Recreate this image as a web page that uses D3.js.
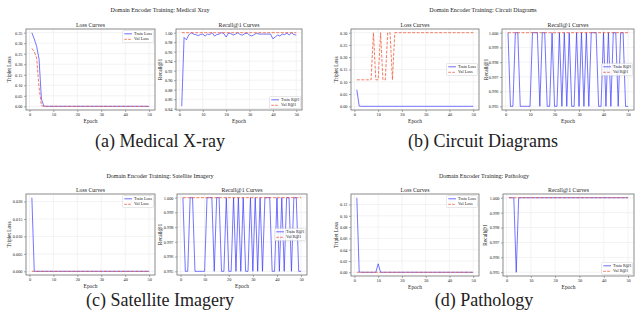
<!DOCTYPE html>
<html>
<head>
<meta charset="utf-8">
<script src="https://cdn.jsdelivr.net/npm/d3@7"></script>
<style>
  body { margin: 0; background: #fff; }
  svg { display: block; }
  text { font-family: "Liberation Serif", "DejaVu Serif", serif; fill: #222; }
</style>
</head>
<body>
<svg id="chart" width="644" height="321"></svg>
<script>
// --- Data ---
const epochs = d3.range(1, 51);
const xTicks = [0, 10, 20, 30, 40, 50];

// (a) Medical X-ray
const medTrainLoss = [0.350, 0.320, 0.285, 0.225, 0.035, 0.001, 0, 0, 0, 0,
  0, 0, 0, 0, 0, 0, 0, 0, 0, 0,
  0, 0, 0, 0, 0, 0, 0, 0, 0, 0,
  0, 0, 0, 0, 0, 0, 0, 0, 0, 0,
  0, 0, 0, 0, 0, 0, 0, 0, 0, 0];
const medValLoss = [0.275, 0.260, 0.230, 0.090, 0.003, 0, 0, 0, 0, 0,
  0, 0, 0, 0, 0, 0, 0, 0, 0, 0,
  0, 0, 0, 0, 0, 0, 0, 0, 0, 0,
  0, 0, 0, 0, 0, 0, 0, 0, 0, 0,
  0, 0, 0, 0, 0, 0, 0, 0, 0, 0];
const medTrainRecall = [0.845, 0.990, 0.985, 0.995, 1.000, 0.997, 0.996, 0.994, 0.996, 0.997,
  0.993, 0.997, 0.996, 1.000, 0.993, 0.996, 0.997, 1.000, 0.998, 0.991,
  0.999, 0.998, 0.995, 0.997, 1.000, 0.996, 0.995, 0.998, 0.999, 0.995,
  0.993, 0.996, 0.999, 0.997, 0.997, 0.997, 0.997, 0.997, 0.997, 0.987,
  0.991, 0.995, 0.993, 0.997, 0.996, 0.999, 0.995, 1.000, 0.996, 0.995];

// (b) Circuit Diagrams
const cirTrainLoss = [0.068, 0.001, 0, 0, 0, 0, 0, 0, 0, 0,
  0, 0, 0, 0, 0, 0, 0, 0, 0, 0,
  0, 0, 0, 0, 0, 0, 0, 0, 0, 0,
  0, 0, 0, 0, 0, 0, 0, 0, 0, 0,
  0, 0, 0, 0, 0, 0, 0, 0, 0, 0];
const cirValLoss = [0.108, 0.108, 0.108, 0.108, 0.108, 0.108, 0.108, 0.300, 0.108, 0.108,
  0.300, 0.108, 0.108, 0.300, 0.300, 0.108, 0.300, 0.300, 0.300, 0.300,
  0.300, 0.300, 0.300, 0.300, 0.300, 0.300, 0.300, 0.300, 0.300, 0.300,
  0.300, 0.300, 0.300, 0.300, 0.300, 0.300, 0.300, 0.300, 0.300, 0.300,
  0.300, 0.300, 0.300, 0.300, 0.300, 0.300, 0.300, 0.300, 0.300, 0.300];
const cirTrainRecall = [1.000, 0.995, 0.995, 1.000, 1.000, 0.995, 0.995, 0.995, 0.995, 0.995,
  1.000, 1.000, 1.000, 0.995, 1.000, 1.000, 0.995, 0.995, 1.000, 0.995,
  0.995, 1.000, 0.995, 1.000, 0.995, 1.000, 0.995, 0.995, 1.000, 0.995,
  1.000, 0.995, 1.000, 0.995, 1.000, 1.000, 1.000, 0.995, 0.995, 1.000,
  0.995, 1.000, 0.995, 1.000, 1.000, 0.995, 1.000, 1.000, 0.995, 0.995];

// (c) Satellite Imagery
const satTrainLoss = [0.0211, 0, 0, 0, 0, 0, 0, 0, 0, 0,
  0, 0, 0, 0, 0, 0, 0, 0, 0, 0,
  0, 0, 0, 0, 0, 0, 0, 0, 0, 0,
  0, 0, 0, 0, 0, 0, 0, 0, 0, 0,
  0, 0, 0, 0, 0, 0, 0, 0, 0, 0];
const satTrainRecall = [1.000, 0.995, 0.995, 1.000, 1.000, 0.995, 0.995, 0.995, 0.995, 0.995,
  1.000, 1.000, 1.000, 0.995, 1.000, 1.000, 0.995, 0.995, 1.000, 0.995,
  0.995, 1.000, 0.995, 1.000, 0.995, 1.000, 0.995, 0.995, 1.000, 0.995,
  1.000, 0.995, 1.000, 0.995, 1.000, 1.000, 1.000, 0.995, 0.995, 1.000,
  0.995, 1.000, 0.995, 1.000, 1.000, 0.995, 1.000, 1.000, 0.995, 0.995];

// (d) Pathology
const patTrainLoss = [0.132, 0.0005, 0, 0, 0, 0, 0, 0, 0, 0.015,
  0, 0, 0, 0, 0, 0, 0, 0, 0, 0,
  0, 0, 0, 0, 0, 0, 0, 0, 0, 0,
  0, 0, 0, 0, 0, 0, 0, 0, 0, 0,
  0, 0, 0, 0, 0, 0, 0, 0, 0, 0];
const patTrainRecall = [1.000, 1.000, 1.000, 0.995, 1.000, 1.000, 1.000, 1.000, 1.000, 1.000,
  1.000, 1.000, 1.000, 1.000, 1.000, 1.000, 1.000, 1.000, 1.000, 1.000,
  1.000, 1.000, 1.000, 1.000, 1.000, 1.000, 1.000, 1.000, 1.000, 1.000,
  1.000, 1.000, 1.000, 1.000, 1.000, 1.000, 1.000, 1.000, 1.000, 1.000,
  1.000, 1.000, 1.000, 1.000, 1.000, 1.000, 1.000, 1.000, 1.000, 1.000];

// val loss for satellite / pathology sits at zero, val recall at 1.0 everywhere
const zeroValLoss = [0, 0, 0, 0, 0, 0, 0, 0, 0, 0,
  0, 0, 0, 0, 0, 0, 0, 0, 0, 0,
  0, 0, 0, 0, 0, 0, 0, 0, 0, 0,
  0, 0, 0, 0, 0, 0, 0, 0, 0, 0,
  0, 0, 0, 0, 0, 0, 0, 0, 0, 0];
const valRecall = [1, 1, 1, 1, 1, 1, 1, 1, 1, 1,
  1, 1, 1, 1, 1, 1, 1, 1, 1, 1,
  1, 1, 1, 1, 1, 1, 1, 1, 1, 1,
  1, 1, 1, 1, 1, 1, 1, 1, 1, 1,
  1, 1, 1, 1, 1, 1, 1, 1, 1, 1];

// y tick labels
const medLossTicks = [0, 0.05, 0.10, 0.15, 0.20, 0.25, 0.30, 0.35];
const medRecallTicks = [0.84, 0.86, 0.88, 0.90, 0.92, 0.94, 0.96, 0.98, 1.00];
const cirLossTicks = [0, 0.05, 0.10, 0.15, 0.20, 0.25, 0.30];
const fineRecallTicks = [0.995, 0.996, 0.997, 0.998, 0.999, 1.000];
const satLossTicks = [0, 0.005, 0.010, 0.015, 0.020];
const patLossTicks = [0, 0.02, 0.04, 0.06, 0.08, 0.10, 0.12];

// --- Drawing ---
const svg = d3.select("#chart");
const trainColor = "#3b3bff", valColor = "#f0502e";

function drawLegend(g, f, loc, labels) {
  const w = 31, h = 12;
  const left = f.x1 - 1.5 - w;
  let top = f.y0 + 1.5;
  if (loc === "center") top = (f.y0 + f.y1) / 2 - h / 2;
  if (loc === "lower") top = f.y1 - 1.5 - h;
  const lg = g.append("g");
  lg.append("rect")
    .attr("x", left).attr("y", top).attr("width", w).attr("height", h)
    .attr("rx", 1).attr("fill", "#fff").attr("fill-opacity", 0.85)
    .attr("stroke", "#d0d0d0").attr("stroke-width", 0.5);
  labels.forEach((lab, i) => {
    const cy = top + 3.3 + i * 5.5;
    lg.append("line")
      .attr("x1", left + 1.8).attr("x2", left + 9.5)
      .attr("y1", cy).attr("y2", cy)
      .attr("stroke", i === 0 ? trainColor : valColor)
      .attr("stroke-opacity", 0.75).attr("stroke-width", 1)
      .attr("stroke-dasharray", i === 0 ? null : "2.6,1.3");
    lg.append("text")
      .attr("x", left + 11.5).attr("y", cy)
      .attr("dominant-baseline", "middle")
      .attr("font-size", "4.2px")
      .text(lab);
  });
}

function drawPlot(cfg) {
  const f = cfg.frame;
  const g = svg.append("g");
  const x = d3.scaleLinear().domain([-1.45, 52.45]).range([f.x0, f.x1]);
  const all = cfg.train.concat(cfg.val);
  const lo = d3.min(all), hi = d3.max(all), pad = (hi - lo) * 0.05;
  const y = d3.scaleLinear().domain([lo - pad, hi + pad]).range([f.y1, f.y0]);

  // grid
  g.append("g").selectAll("line").data(xTicks).join("line")
    .attr("x1", d => x(d)).attr("x2", d => x(d))
    .attr("y1", f.y0).attr("y2", f.y1)
    .attr("stroke", "#e6e6e6").attr("stroke-width", 0.5);
  g.append("g").selectAll("line").data(cfg.yTicks).join("line")
    .attr("x1", f.x0).attr("x2", f.x1)
    .attr("y1", d => y(d)).attr("y2", d => y(d))
    .attr("stroke", "#e6e6e6").attr("stroke-width", 0.5);

  // axes
  const ax = g.append("g").attr("transform", `translate(0,${f.y1})`)
    .call(d3.axisBottom(x).tickValues(xTicks).tickSize(2).tickPadding(1.2));
  const ay = g.append("g").attr("transform", `translate(${f.x0},0)`)
    .call(d3.axisLeft(y).tickValues(cfg.yTicks).tickFormat(d3.format(cfg.fmt)).tickSize(2).tickPadding(1.5));
  [ax, ay].forEach(a => {
    a.select(".domain").remove();
    a.selectAll(".tick line").attr("stroke", "#555").attr("stroke-width", 0.5);
    a.selectAll(".tick text").attr("font-size", "4.3px")
      .attr("font-family", '"Liberation Serif","DejaVu Serif",serif').attr("fill", "#333");
  });

  // lines
  const line = d3.line().x((d, i) => x(epochs[i])).y(d => y(d));
  g.append("path").datum(cfg.train).attr("d", line)
    .attr("fill", "none").attr("stroke", trainColor)
    .attr("stroke-opacity", 0.7).attr("stroke-width", 1);
  g.append("path").datum(cfg.val).attr("d", line)
    .attr("fill", "none").attr("stroke", valColor)
    .attr("stroke-opacity", 0.75).attr("stroke-width", 1)
    .attr("stroke-dasharray", "3,1.5");

  // frame
  g.append("rect")
    .attr("x", f.x0).attr("y", f.y0)
    .attr("width", f.x1 - f.x0).attr("height", f.y1 - f.y0)
    .attr("fill", "none").attr("stroke", "#6e6e6e").attr("stroke-width", 0.8);

  // titles and labels
  g.append("text").attr("x", (f.x0 + f.x1) / 2).attr("y", f.y0 - 2.2)
    .attr("text-anchor", "middle").attr("font-size", "5.8px").text(cfg.title);
  g.append("text").attr("x", (f.x0 + f.x1) / 2).attr("y", f.y1 + 13)
    .attr("text-anchor", "middle").attr("font-size", "5.4px").text("Epoch");
  g.append("text")
    .attr("transform", `translate(${cfg.ylabX},${(f.y0 + f.y1) / 2}) rotate(-90)`)
    .attr("text-anchor", "middle").attr("dominant-baseline", "middle")
    .attr("font-size", "5.4px").text(cfg.ylabel);

  drawLegend(g, f, cfg.legend, cfg.labels);
}

function drawPanel(p) {
  svg.append("text").attr("x", p.cx).attr("y", p.supY)
    .attr("text-anchor", "middle").attr("font-size", "6px")
    .text(p.suptitle);
  drawPlot({
    frame: p.lossFrame, title: "Loss Curves", ylabel: "Triplet Loss",
    ylabX: p.lossFrame.x0 - p.lossLabOff,
    train: p.lossTrain, val: p.lossVal, yTicks: p.lossTicks, fmt: p.lossFmt,
    legend: p.lossLegend, labels: ["Train Loss", "Val Loss"]
  });
  drawPlot({
    frame: p.recFrame, title: "Recall@1 Curves", ylabel: "Recall@1",
    ylabX: p.recFrame.x0 - p.recLabOff,
    train: p.recTrain, val: p.recVal, yTicks: p.recTicks, fmt: p.recFmt,
    legend: p.recLegend, labels: ["Train R@1", "Val R@1"]
  });
  svg.append("text").attr("x", p.cx).attr("y", p.capY)
    .attr("text-anchor", "middle").attr("font-size", "18px")
    .text(p.caption);
}

const panels = [
  { suptitle: "Domain Encoder Training: Medical Xray", caption: "(a) Medical X-ray",
    cx: 160, supY: 12, capY: 147,
    lossFrame: {x0: 26, x1: 155, y0: 29, y1: 110}, lossLabOff: 16,
    lossTrain: medTrainLoss, lossVal: medValLoss, lossTicks: medLossTicks, lossFmt: ".2f", lossLegend: "upper",
    recFrame: {x0: 176, x1: 302, y0: 29, y1: 110}, recLabOff: 15,
    recTrain: medTrainRecall, recVal: valRecall, recTicks: medRecallTicks, recFmt: ".2f", recLegend: "lower" },
  { suptitle: "Domain Encoder Training: Circuit Diagrams", caption: "(b) Circuit Diagrams",
    cx: 483, supY: 12, capY: 147,
    lossFrame: {x0: 351, x1: 479, y0: 29, y1: 110}, lossLabOff: 14,
    lossTrain: cirTrainLoss, lossVal: cirValLoss, lossTicks: cirLossTicks, lossFmt: ".2f", lossLegend: "center",
    recFrame: {x0: 502, x1: 634, y0: 29, y1: 110}, recLabOff: 15,
    recTrain: cirTrainRecall, recVal: valRecall, recTicks: fineRecallTicks, recFmt: ".3f", recLegend: "center" },
  { suptitle: "Domain Encoder Training: Satellite Imagery", caption: "(c) Satellite Imagery",
    cx: 160, supY: 178, capY: 306,
    lossFrame: {x0: 26, x1: 155, y0: 194, y1: 275}, lossLabOff: 16,
    lossTrain: satTrainLoss, lossVal: zeroValLoss, lossTicks: satLossTicks, lossFmt: ".3f", lossLegend: "upper",
    recFrame: {x0: 177, x1: 307, y0: 194, y1: 275}, recLabOff: 16,
    recTrain: satTrainRecall, recVal: valRecall, recTicks: fineRecallTicks, recFmt: ".3f", recLegend: "center" },
  { suptitle: "Domain Encoder Training: Pathology", caption: "(d) Pathology",
    cx: 484, supY: 178, capY: 306,
    lossFrame: {x0: 351, x1: 479, y0: 194, y1: 276}, lossLabOff: 14,
    lossTrain: patTrainLoss, lossVal: zeroValLoss, lossTicks: patLossTicks, lossFmt: ".2f", lossLegend: "upper",
    recFrame: {x0: 503, x1: 634, y0: 194, y1: 276}, recLabOff: 17,
    recTrain: patTrainRecall, recVal: valRecall, recTicks: fineRecallTicks, recFmt: ".3f", recLegend: "lower" }
];

panels.forEach(drawPanel);
</script>
</body>
</html>
